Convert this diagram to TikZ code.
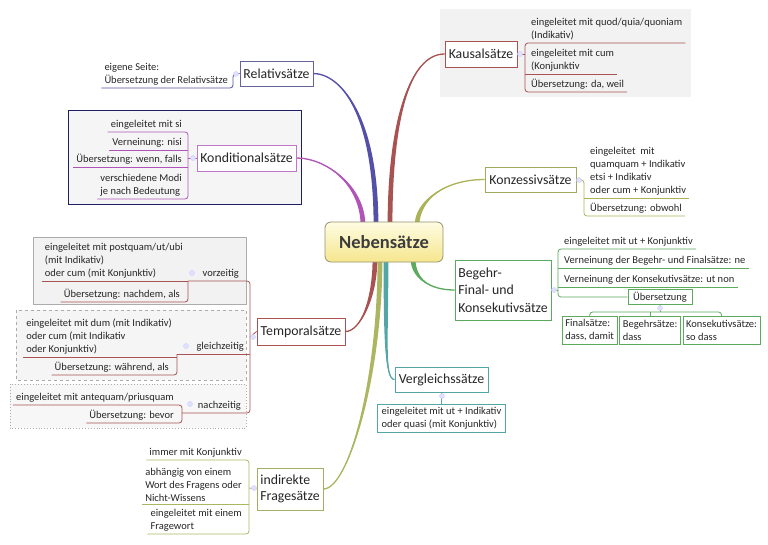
\documentclass[tikz,border=0pt]{standalone}
\usepackage{fontspec}
\setmainfont{Carlito}
\usetikzlibrary{calc, positioning}

\definecolor{relc}{RGB}{84,80,168}
\definecolor{kondc}{RGB}{176,84,184}
\definecolor{kausc}{RGB}{168,82,82}
\definecolor{konzc}{RGB}{172,178,88}
\definecolor{begc}{RGB}{92,170,92}
\definecolor{vergc}{RGB}{84,166,166}
\definecolor{tempc}{RGB}{168,82,82}
\definecolor{indc}{RGB}{172,182,96}
\definecolor{framec}{RGB}{30,30,100}
\definecolor{textc}{RGB}{60,60,60}

\pgfdeclarelayer{background}
\pgfsetlayers{background,main}

% tapered branch: colour, topic anchor, control at topic, control at centre, centre point
\newcommand{\branch}[5]{%
  \fill[#1] (#2) .. controls +(#3) and +(#4) .. ($(#5)+(-2.4,0)$)
    -- ($(#5)+(2.4,0)$) .. controls +(#4) and +(#3) .. (#2) -- cycle;
  \draw[#1, line width=1.3pt] (#2) .. controls +(#3) and +(#4) .. (#5);}

\begin{document}
\begin{tikzpicture}[
    x=1pt, y=-1pt,
    font=\fontsize{10.5}{13}\selectfont,
    central/.style={
        draw=gray!70!yellow!80!black,
        line width=0.8pt,
        rounded corners=6pt,
        top color={rgb,255:red,254;green,252;blue,226},
        bottom color={rgb,255:red,246;green,230;blue,142},
        text=textc,
        font=\fontsize{18.5}{20}\selectfont\bfseries,
        minimum width=118pt,
        minimum height=40pt
    },
    topic/.style={
        draw,
        line width=0.9pt,
        fill=white,
        text=black!85,
        align=left,
        inner sep=3pt,
        font=\fontsize{13.8}{15.5}\selectfont
    },
    leaf/.style={
        align=left,
        text=black!85,
        inner xsep=3pt,
        inner ysep=2.5pt
    },
    leafbox/.style={
        draw,
        line width=0.8pt,
        fill=white,
        align=left,
        text=black!85,
        inner xsep=4pt,
        inner ysep=2.5pt
    },
    uline/.style={
        line width=0.8pt,
        rounded corners=3pt
    },
    dot/.style={
        circle,
        draw=blue!20,
        fill=blue!12,
        inner sep=0pt,
        minimum size=5pt
    }
]
\useasboundingbox (0,0) rectangle (768,544);

% centre
\node[central] (neb) at (384,242) {Nebensätze};

% topics
\node[topic, draw=relc!60!gray, minimum width=73pt, minimum height=25pt] (rel) at (276.5,73.5) {Relativsätze};
\node[topic, draw=kondc!80, minimum width=99pt, minimum height=26pt] (kond) at (246.5,158) {Konditionalsätze};
\node[topic, draw=kausc, minimum width=72pt, minimum height=26pt] (kaus) at (481,54) {Kausalsätze};
\node[topic, draw=konzc!80!gray, minimum width=91pt, minimum height=25pt] (konz) at (530.5,179.5) {Konzessivsätze};
\node[topic, draw=begc, minimum width=96pt, minimum height=60pt, font=\fontsize{13.8}{17.5}\selectfont] (beg) at (503,290) {Begehr-\\Final- und\\Konsekutivsätze};
\node[topic, draw=vergc, minimum width=93pt, minimum height=25pt] (verg) at (441.5,379.5) {Vergleichssätze};
\node[topic, draw=tempc, minimum width=88pt, minimum height=27pt] (temp) at (301,331.5) {Temporalsätze};
\node[topic, draw=indc!85!gray, minimum width=66pt, minimum height=42pt] (ind) at (290,489) {indirekte\\Fragesätze};

% points where the branches leave the centre
\coordinate (nKond) at ($(neb.north)+(-21,4)$);
\coordinate (nRel) at ($(neb.north)+(-8,4)$);
\coordinate (nKaus) at ($(neb.north)+(6,4)$);
\coordinate (nKonz) at ($(neb.north)+(33,4)$);
\coordinate (nTemp) at ($(neb.south)+(-9,-4)$);
\coordinate (nInd) at ($(neb.south)+(-4,-4)$);
\coordinate (nVerg) at ($(neb.south)+(2,-4)$);
\coordinate (nBeg) at ($(neb.south)+(29,-4)$);

% Relativsaetze
\coordinate (relbr) at (233,74);
\node[leaf, anchor=south east] (relnote) at (231,88) {eigene Seite:\\Übersetzung der Relativsätze};
\draw[uline, relc] (relnote.south west) -- (relbr |- relnote.south) -- (relbr) -- (rel.west);
\node[dot] (reldot) at (236,74) {};

% Konditionalsaetze
\coordinate (kondbr) at (188,158);
\node[leaf, anchor=south east] (kond1) at (185,132) {eingeleitet mit si};
\node[leaf, anchor=south east] (kond2) at (185,150) {Verneinung: nisi};
\node[leaf, anchor=south east] (kond3) at (185,167) {Übersetzung: wenn, falls};
\node[leaf, anchor=south east] (kond4) at (185,199) {verschiedene Modi\\je nach Bedeutung};
\draw[uline, kondc] (kond1.south west) -- (kondbr |- kond1.south) -- (kondbr |- kond4.south) -- (kond4.south west);
\draw[uline, kondc] (kond2.south west) -- (kondbr |- kond2.south);
\draw[uline, kondc] (kond3.south west) -- (kondbr |- kond3.south);
\draw[uline, kondc] (kond.west) -- (kondbr);
\node[dot] (konddot) at (193,158) {};

% Kausalsaetze
\coordinate (kausbr) at (525,54);
\node[leaf, anchor=south west] (kaus1) at (528,43) {eingeleitet mit quod/quia/quoniam\\(Indikativ)};
\node[leaf, anchor=south west] (kaus2) at (528,74) {eingeleitet mit cum\\(Konjunktiv};
\node[leaf, anchor=south west] (kaus3) at (528,92) {Übersetzung: da, weil};
\draw[uline, kausc] (kaus1.south east) -- (kausbr |- kaus1.south) -- (kausbr |- kaus3.south) -- (kaus3.south east);
\draw[uline, kausc] (kausbr |- kaus2.south) -- (kaus2.south east);
\draw[uline, kausc] (kaus.east) -- (kausbr);
\node[dot] (kausdot) at (520,54) {};

% Konzessivsaetze
\coordinate (konzbr) at (584,180);
\node[leaf, anchor=south west] (konz1) at (587,198) {eingeleitet~ mit\\quamquam + Indikativ\\etsi + Indikativ\\oder cum + Konjunktiv};
\node[leaf, anchor=south west] (konz2) at (587,216) {Übersetzung: obwohl};
\draw[uline, konzc] (konz.east) -- (konzbr) -- (konzbr |- konz2.south) -- (konz2.south east);
\draw[uline, konzc] (konzbr |- konz1.south) -- (konz1.south east);
\node[dot] (konzdot) at (579,180) {};

% Begehr-, Final- und Konsekutivsaetze
\coordinate (begbr) at (558,290);
\node[leaf, anchor=south west] (beg1) at (561,249) {eingeleitet mit ut + Konjunktiv};
\node[leaf, anchor=south west] (beg2) at (561,268) {Verneinung der Begehr- und Finalsätze: ne};
\node[leaf, anchor=south west] (beg3) at (561,287) {Verneinung der Konsekutivsätze: ut non};
\node[leafbox, draw=begc, minimum width=64pt, minimum height=15pt, inner ysep=1pt] (ueb) at (660,297) {Übersetzung};
\draw[uline, begc] (beg1.south east) -- (begbr |- beg1.south) -- (begbr |- ueb.west) -- (ueb.west);
\draw[uline, begc] (begbr |- beg2.south) -- (beg2.south east);
\draw[uline, begc] (begbr |- beg3.south) -- (beg3.south east);
\draw[uline, begc] (beg.east) -- (begbr);
\node[dot] (begdot) at (554,290) {};

\node[leafbox, draw=begc, anchor=north west, minimum height=28pt, inner xsep=3pt] (fin) at (562,316) {Finalsätze:\\dass, damit};
\node[leafbox, draw=begc, minimum height=28pt, inner xsep=3pt, right=2pt of fin] (begs) {Begehrsätze:\\dass};
\node[leafbox, draw=begc, minimum height=28pt, inner xsep=3pt, right=2pt of begs] (kons) {Konsekutivsätze:\\so dass};
\coordinate (uebbr) at (660,312);
\draw[uline, begc] (ueb.south) -- (uebbr);
\draw[uline, begc] (fin.north) -- (fin.north |- uebbr) -- (kons.north |- uebbr) -- (kons.north);
\draw[uline, begc] (begs.north) -- (begs.north |- uebbr);
\node[dot] (uebdot) at (660,308) {};

% Vergleichssaetze
\node[leafbox, draw=vergc, below=12pt of verg] (vergl) {eingeleitet mit ut + Indikativ\\oder quasi (mit Konjunktiv)};
\draw[uline, vergc] (verg.south) -- (vergl.north);
\node[dot] (vergdot) at (442,396) {};

% Temporalsaetze
\coordinate (tempbr) at (250,337);
\coordinate (vorbr) at (188,281);
\coordinate (glbr) at (177,354);
\coordinate (nabr) at (182,413);
\node[leaf, anchor=south east] (vor) at (242,281) {vorzeitig};
\node[leaf, anchor=south east] (gl) at (247,354) {gleichzeitig};
\node[leaf, anchor=south east] (na) at (244,413) {nachzeitig};
\draw[uline, tempc] (vorbr) -- (tempbr |- vorbr) -- (tempbr |- nabr) -- (nabr);
\draw[uline, tempc] (glbr) -- (tempbr |- glbr);
\draw[uline, tempc] (temp.west) -- (tempbr);
\node[dot] (tempdot) at (253,337) {};

\node[leaf, anchor=south east] (vor1) at (186,281) {eingeleitet mit postquam/ut/ubi\\(mit Indikativ)\\oder cum (mit Konjunktiv)};
\node[leaf, anchor=south east] (vor2) at (183,302) {Übersetzung: nachdem, als};
\draw[uline, tempc] (vor1.south west) -- (vorbr |- vor1.south);
\draw[uline, tempc] (vorbr) -- (vorbr |- vor2.south) -- (vor2.south west);
\node[dot] (vordot) at (192,273) {};

\node[leaf, anchor=south east] (gl1) at (175,357) {eingeleitet mit dum (mit Indikativ)\\oder cum (mit Indikativ\\oder Konjunktiv)};
\node[leaf, anchor=south east] (gl2) at (172,375) {Übersetzung: während, als};
\draw[uline, tempc] (gl1.south west) -- (glbr |- gl1.south);
\draw[uline, tempc] (glbr) -- (glbr |- gl2.south) -- (gl2.south west);
\node[dot] (gldot) at (186,346) {};

\node[leaf, anchor=south east] (na1) at (177,405) {eingeleitet mit antequam/priusquam};
\node[leaf, anchor=south east] (na2) at (177,423) {Übersetzung: bevor};
\draw[uline, tempc] (na1.south west) -- (nabr |- na1.south) -- (nabr |- na2.south) -- (na2.south west);
\node[dot] (nadot) at (190,404) {};

% indirekte Fragesaetze
\coordinate (indbr) at (249,488);
\node[leaf, anchor=south east] (ind1) at (245,460) {immer mit Konjunktiv};
\node[leaf, anchor=south east] (ind2) at (245,504) {abhängig von einem\\Wort des Fragens oder\\Nicht-Wissens};
\node[leaf, anchor=south east] (ind3) at (245,534) {eingeleitet mit einem\\Fragewort};
\draw[uline, indc] (ind1.south west) -- (indbr |- ind1.south) -- (indbr |- ind3.south) -- (ind3.south west);
\draw[uline, indc] (ind2.south west) -- (indbr |- ind2.south);
\draw[uline, indc] (ind.west) -- (indbr);
\node[dot] (inddot) at (254,488) {};

% frames and branches behind everything
\begin{pgfonlayer}{background}
\fill[gray!10] (440,9) rectangle (691,97);
\draw[framec, fill=gray!8, line width=1pt] (68,110) rectangle (301,204);
\draw[gray!65, fill=gray!10, line width=0.9pt] (33,237) rectangle (246,304);
\draw[gray!65, fill=gray!8, line width=0.9pt, dashed] (16,310) rectangle (246,380);
\draw[gray!65, fill=gray!6, line width=0.9pt, dotted] (10,384) rectangle (246,428);

\branch{relc}{rel.east}{25,0}{0,-115}{nRel}
\branch{kondc}{kond.east}{30,0}{0,-40}{nKond}
\branch{kausc}{kaus.west}{-35,0}{0,-105}{nKaus}
\branch{konzc}{konz.west}{-40,0}{0,-25}{nKonz}
\branch{begc}{beg.west}{-25,0}{0,20}{nBeg}
\branch{vergc}{verg.west}{-10,0}{0,80}{nVerg}
\branch{tempc}{temp.east}{15,0}{0,40}{nTemp}
\branch{indc}{ind.east}{25,0}{0,120}{nInd}
\end{pgfonlayer}

\end{tikzpicture}
\end{document}
